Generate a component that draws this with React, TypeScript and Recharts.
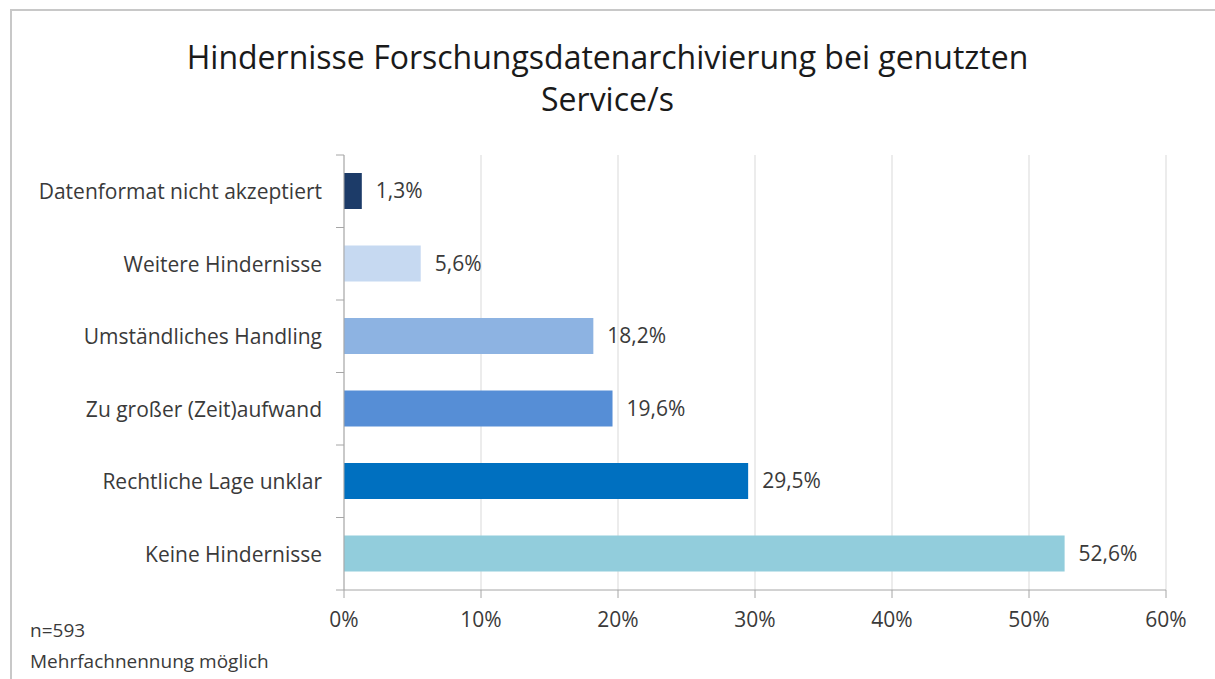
import React from 'react';
import {
  BarChart,
  Bar,
  XAxis,
  YAxis,
  CartesianGrid,
  Cell,
  LabelList,
} from 'recharts';

const categories = [
  'Datenformat nicht akzeptiert',
  'Weitere Hindernisse',
  'Umständliches Handling',
  'Zu großer (Zeit)aufwand',
  'Rechtliche Lage unklar',
  'Keine Hindernisse',
];
const shares = [1.3, 5.6, 18.2, 19.6, 29.5, 52.6];
const barColors = ['#1c3b68', '#c6d9f1', '#8db3e2', '#568ed6', '#0070c0', '#92cddc'];
const xTicks = [0, 10, 20, 30, 40, 50, 60];

const data = categories.map((name, i) => ({ name, value: shares[i] }));

const FONT = '"Open Sans", "Segoe UI", sans-serif';
const TEXT = '#3a3a3a';
const AXIS = '#a6a6a6';
const ROW = 435 / categories.length;

const CategoryTick = (props: any) => {
  const { x, y, payload, index } = props;
  const axisX = x + 22;
  return (
    <g>
      <text
        x={x}
        y={y}
        textAnchor="end"
        dominantBaseline="central"
        fontSize={21}
        fontFamily={FONT}
        fill={TEXT}
      >
        {payload.value}
      </text>
      <line x1={axisX - 8} x2={axisX} y1={y - ROW / 2} y2={y - ROW / 2} stroke={AXIS} />
      {index === categories.length - 1 && (
        <line x1={axisX - 8} x2={axisX} y1={y + ROW / 2} y2={y + ROW / 2} stroke={AXIS} />
      )}
    </g>
  );
};

export default function App() {
  return (
    <div
      style={{
        position: 'absolute',
        left: 0,
        top: 0,
        width: 1215,
        height: 679,
        background: '#fff',
        fontFamily: FONT,
        overflow: 'hidden',
      }}
    >
      <div
        style={{
          position: 'absolute',
          left: 10,
          top: 9,
          width: 1220,
          height: 700,
          border: '2px solid #c8c8c8',
        }}
      />
      <div
        style={{
          position: 'absolute',
          left: 0,
          top: 36,
          width: 1215,
          textAlign: 'center',
          fontSize: 32,
          lineHeight: '42px',
          color: '#1a1a1a',
        }}
      >
        Hindernisse Forschungsdatenarchivierung bei genutzten
        <br />
        Service/s
      </div>
      <div
        style={{
          position: 'absolute',
          left: 30,
          top: 615,
          fontSize: 19,
          lineHeight: '31px',
          color: TEXT,
        }}
      >
        n=593
        <br />
        Mehrfachnennung möglich
      </div>
      <div style={{ position: 'absolute', left: 0, top: 0 }}>
        <BarChart
          width={1215}
          height={679}
          data={data}
          layout="vertical"
          barSize={36}
          margin={{ top: 155, right: 49, bottom: 59, left: 10 }}
        >
          <CartesianGrid horizontal={false} stroke="#d9d9d9" />
          <XAxis
            type="number"
            domain={[0, 60]}
            ticks={xTicks}
            tickFormatter={(v) => `${v}%`}
            stroke={AXIS}
            tickSize={8}
            tickMargin={14}
            height={30}
            tick={{ fontSize: 21, fill: TEXT, fontFamily: FONT }}
          />
          <YAxis
            type="category"
            dataKey="name"
            width={334}
            stroke={AXIS}
            tickLine={false}
            tickSize={8}
            tickMargin={14}
            tick={<CategoryTick />}
            interval={0}
          />
          <Bar dataKey="value" isAnimationActive={false}>
            {data.map((d, i) => (
              <Cell key={d.name} fill={barColors[i]} />
            ))}
            <LabelList
              dataKey="value"
              position="right"
              offset={14}
              formatter={(v: any) => `${String(v).replace('.', ',')}%`}
              style={{ fontSize: 21, fill: TEXT, fontFamily: FONT }}
            />
          </Bar>
        </BarChart>
      </div>
    </div>
  );
}
